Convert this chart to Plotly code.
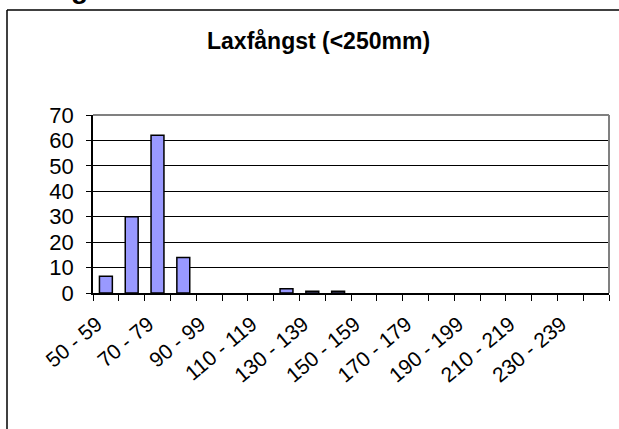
import plotly.graph_objects as go

# ---- data ----
categories = [f"{s} - {s + 9}" for s in range(50, 250, 10)]
values = [6.6, 30, 62, 14, 0, 0, 0, 1.7, 0.7, 0.7, 0, 0, 0, 0, 0, 0, 0, 0, 0, 0]
y_ticks = [0, 10, 20, 30, 40, 50, 60, 70]
chart_title = "Laxfångst (<250mm)"

# show every other category label
tick_text = [c if i % 2 == 0 else "" for i, c in enumerate(categories)]

W, H = 619, 429
ML, MR, MT, MB = 93, 10, 115, 136
PW, PH = W - ML - MR, H - MT - MB


def px_x(px):
    return (px - ML) / PW


def px_y(py):
    return (H - MB - py) / PH


fig = go.Figure()
fig.add_trace(go.Bar(
    x=categories,
    y=[v if v else None for v in values],
    marker=dict(color="#9999FF", line=dict(color="#000000", width=1.5)),
    width=0.5,
    hoverinfo="x+y",
))

font_family = "Liberation Sans, Arial, sans-serif"

fig.update_layout(
    width=W, height=H,
    margin=dict(l=ML, r=MR, t=MT, b=MB, pad=0),
    paper_bgcolor="white",
    plot_bgcolor="white",
    showlegend=False,
    font=dict(family=font_family, color="#000000"),
    xaxis=dict(
        type="category",
        tickmode="array",
        tickvals=categories,
        ticktext=tick_text,
        tickson="boundaries",
        ticks="outside",
        ticklen=6,
        tickwidth=1,
        tickcolor="#000000",
        tickangle=-40,
        ticklabelstandoff=9,
        ticklabelshift=-9,
        tickfont=dict(size=21, family=font_family, color="#000000"),
        showline=True,
        linecolor="#000000",
        linewidth=1.5,
        showgrid=False,
        zeroline=False,
        range=[-0.5, len(categories) - 0.5],
    ),
    yaxis=dict(
        range=[0, 70],
        tickmode="array",
        tickvals=y_ticks,
        ticks="outside",
        ticklen=5,
        tickwidth=1,
        tickcolor="#000000",
        ticklabelstandoff=8,
        tickfont=dict(size=22, family=font_family, color="#000000"),
        showline=True,
        linecolor="#000000",
        linewidth=1.5,
        showgrid=True,
        gridcolor="#000000",
        gridwidth=1,
        zeroline=False,
    ),
    annotations=[
        dict(
            text=f"<b>{chart_title}</b>",
            xref="paper", yref="paper",
            x=px_x(318), y=px_y(41),
            xanchor="center", yanchor="middle",
            showarrow=False,
            font=dict(size=23, family=font_family, color="#000000"),
        ),
        dict(
            text="<b>g</b>",
            xref="paper", yref="paper",
            x=px_x(79), y=px_y(4),
            xanchor="center", yanchor="bottom",
            yshift=-2,
            showarrow=False,
            font=dict(size=28, family=font_family, color="#000000"),
        ),
    ],
    shapes=[
        # outer chart frame (extends beyond the visible window)
        dict(type="line", xref="paper", yref="paper",
             x0=px_x(7), x1=px_x(7), y0=px_y(10), y1=px_y(460),
             line=dict(color="#000000", width=1.5)),
        dict(type="line", xref="paper", yref="paper",
             x0=px_x(7), x1=px_x(640), y0=px_y(10), y1=px_y(10),
             line=dict(color="#000000", width=1.5)),
        # plot area border (top and right, gray)
        dict(type="line", xref="paper", yref="paper",
             x0=0, x1=1, y0=1, y1=1,
             line=dict(color="#808080", width=2)),
        dict(type="line", xref="paper", yref="paper",
             x0=1, x1=1, y0=0, y1=1,
             line=dict(color="#808080", width=2)),
    ],
)

fig.write_html(
    "out.html",
    config={"displayModeBar": False},
    post_script="document.body.style.margin='0px';document.body.style.overflow='hidden';",
)
